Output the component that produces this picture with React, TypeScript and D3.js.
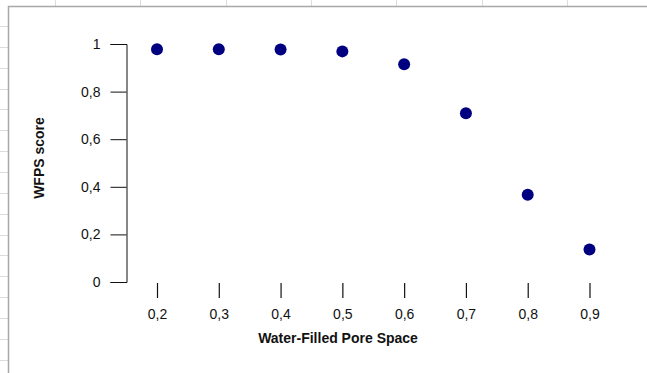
import * as d3 from 'd3';
import { useEffect, useRef } from 'react';

// values
const wfps = [0.2, 0.3, 0.4, 0.5, 0.6, 0.7, 0.8, 0.9];
const score = [0.978, 0.978, 0.977, 0.969, 0.915, 0.709, 0.367, 0.137];
const yTicks = [0, 0.2, 0.4, 0.6, 0.8, 1];

const W = 647;
const H = 373;
const font = '"Liberation Sans", Arial, sans-serif';
const fmt = (v: number) => String(v).replace('.', ',');

export default function App() {
  const ref = useRef<SVGSVGElement>(null);

  useEffect(() => {
    const svg = d3.select(ref.current);
    svg.selectAll('*').remove();

    // spreadsheet behind the chart
    const grid = svg.append('g').attr('stroke', '#dcdcdc').attr('stroke-width', 1);
    d3.range(26, H, 20.85).forEach((yy) => {
      grid.append('line').attr('x1', 0).attr('x2', 8).attr('y1', Math.round(yy) + 0.5).attr('y2', Math.round(yy) + 0.5);
    });
    d3.range(55, W, 85.3).forEach((xx) => {
      grid.append('line').attr('y1', 0).attr('y2', 6).attr('x1', Math.round(xx) + 0.5).attr('x2', Math.round(xx) + 0.5);
    });
    svg.append('path')
      .attr('d', `M8.5,${H}V6.5H${W}`)
      .attr('fill', 'none')
      .attr('stroke', '#a8a8a8')
      .attr('stroke-width', 1.5);

    const x = d3.scaleLinear().domain([0.2, 0.9]).range([157, 589.5]);
    const y = d3.scaleLinear().domain([0, 1]).range([282, 44]);

    // y axis
    const ya = svg.append('g')
      .attr('transform', 'translate(126.5,0)')
      .call(d3.axisLeft(y).tickValues(yTicks).tickSize(16).tickPadding(10).tickFormat((d) => fmt(+d)));
    ya.selectAll('text').attr('font-size', 14).attr('font-family', font).attr('fill', '#111');
    ya.selectAll('line, path').attr('stroke', '#111');

    // x axis: ticks only, no baseline
    const xa = svg.append('g')
      .attr('transform', 'translate(0,283)')
      .call(d3.axisBottom(x).tickValues(wfps).tickSize(15).tickPadding(11).tickFormat((d) => fmt(+d)));
    xa.select('.domain').remove();
    xa.selectAll('text').attr('font-size', 14).attr('font-family', font).attr('fill', '#111');
    xa.selectAll('line').attr('stroke', '#111').attr('stroke-width', 1.2);

    svg.append('text')
      .attr('x', 338)
      .attr('y', 343)
      .attr('text-anchor', 'middle')
      .attr('font-family', font)
      .attr('font-weight', 'bold')
      .attr('font-size', 14)
      .attr('fill', '#111')
      .text('Water-Filled Pore Space');

    svg.append('text')
      .attr('transform', 'translate(44,158) rotate(-90)')
      .attr('text-anchor', 'middle')
      .attr('font-family', font)
      .attr('font-weight', 'bold')
      .attr('font-size', 14)
      .attr('fill', '#111')
      .text('WFPS score');

    svg.append('g')
      .selectAll('circle')
      .data(wfps)
      .enter()
      .append('circle')
      .attr('cx', (d) => x(d))
      .attr('cy', (d, i) => y(score[i]))
      .attr('r', 6)
      .attr('fill', '#000080');
  }, []);

  return (
    <svg
      ref={ref}
      width={W}
      height={H}
      style={{ position: 'absolute', left: 0, top: 0, background: '#fff' }}
    />
  );
}
